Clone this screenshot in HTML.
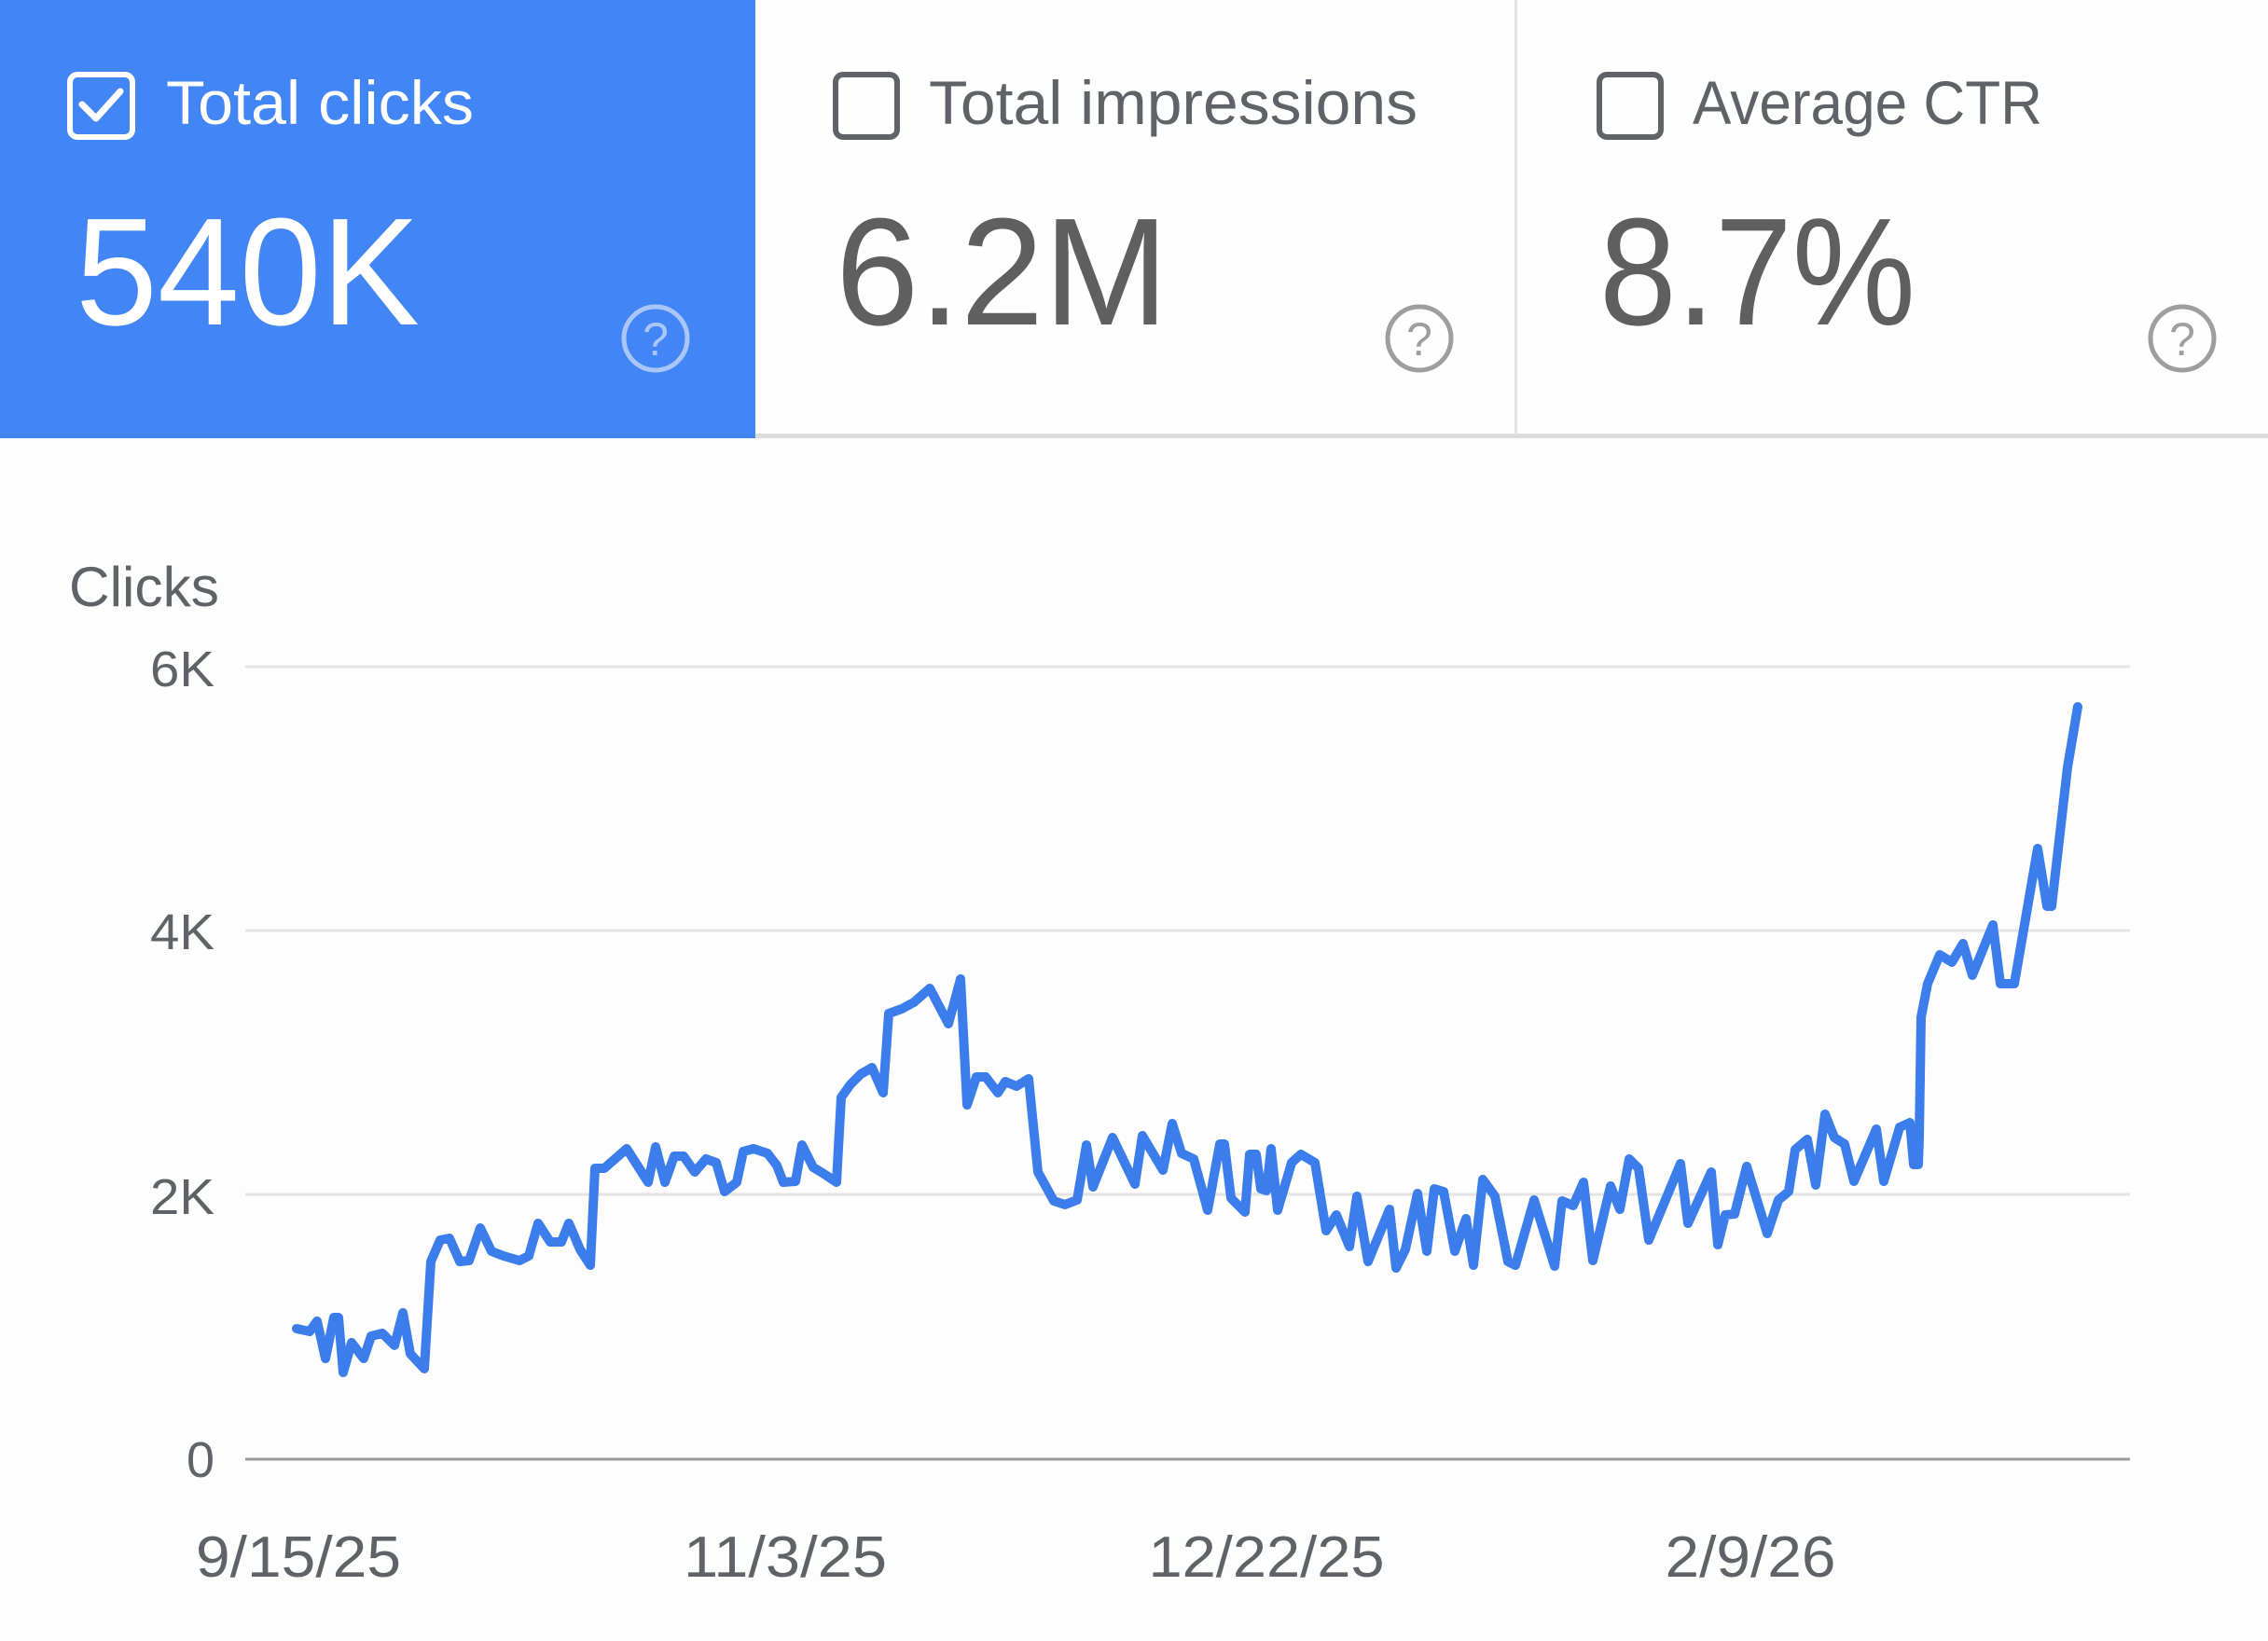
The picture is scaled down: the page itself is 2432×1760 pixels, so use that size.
<!DOCTYPE html>
<html>
<head>
<meta charset="utf-8">
<style>
  html,body{margin:0;padding:0;background:#fdfdfd;}
  body{width:2432px;height:1760px;overflow:hidden;}
  svg{display:block;}
  text{font-family:"Liberation Sans", Arial, sans-serif;}
</style>
</head>
<body>
<svg width="2432" height="1760" viewBox="0 0 2432 1760" xmlns="http://www.w3.org/2000/svg">
  <!-- backgrounds -->
  <rect x="0" y="0" width="2432" height="1760" fill="#fdfdfd"/>
  <rect x="810" y="0" width="1622" height="466" fill="#fefefe"/>
  <!-- bottom border of cards -->
  <rect x="810" y="465" width="1622" height="5" fill="#dcdcdc"/>
  <!-- divider between card 2 and 3 -->
  <rect x="1624" y="0" width="3" height="466" fill="#e3e3e3"/>
  <!-- blue selected card -->
  <rect x="0" y="0" width="810" height="470" fill="#4285f4"/>

  <!-- Card 1 -->
  <rect x="75" y="80" width="67" height="67" rx="8" ry="8" fill="none" stroke="#ffffff" stroke-width="6"/>
  <polyline points="88,112 103,127 129,98" fill="none" stroke="#ffffff" stroke-width="7" stroke-linecap="round" stroke-linejoin="round"/>
  <text x="178" y="133" font-size="66" fill="#ffffff" textLength="330" lengthAdjust="spacingAndGlyphs">Total clicks</text>
  <text x="81" y="348" font-size="164" fill="#ffffff" textLength="369" lengthAdjust="spacingAndGlyphs">540K</text>
  <circle cx="703" cy="363" r="34" fill="none" stroke="#a9c6f8" stroke-width="5"/>
  <text x="703" y="381" font-size="50" fill="#a9c6f8" text-anchor="middle">?</text>

  <!-- Card 2 -->
  <rect x="896" y="80" width="66" height="67" rx="8" ry="8" fill="none" stroke="#5f6368" stroke-width="6"/>
  <text x="996" y="133" font-size="66" fill="#5f6368" textLength="524" lengthAdjust="spacingAndGlyphs">Total impressions</text>
  <text x="896" y="348" font-size="164" fill="#5f5f5f" textLength="357" lengthAdjust="spacingAndGlyphs">6.2M</text>
  <circle cx="1522" cy="363" r="34" fill="none" stroke="#9e9e9e" stroke-width="5"/>
  <text x="1522" y="381" font-size="50" fill="#9e9e9e" text-anchor="middle">?</text>

  <!-- Card 3 -->
  <rect x="1715" y="80" width="66" height="67" rx="8" ry="8" fill="none" stroke="#5f6368" stroke-width="6"/>
  <text x="1815" y="133" font-size="66" fill="#5f6368" textLength="375" lengthAdjust="spacingAndGlyphs">Average CTR</text>
  <text x="1715" y="348" font-size="164" fill="#5f5f5f" textLength="339" lengthAdjust="spacingAndGlyphs">8.7%</text>
  <circle cx="2340" cy="363" r="34" fill="none" stroke="#9e9e9e" stroke-width="5"/>
  <text x="2340" y="381" font-size="50" fill="#9e9e9e" text-anchor="middle">?</text>

  <!-- Chart -->
  <text x="74" y="650" font-size="60" fill="#5f6368" textLength="161" lengthAdjust="spacingAndGlyphs">Clicks</text>

  <line x1="263" y1="715" x2="2284" y2="715" stroke="#e4e4e4" stroke-width="3"/>
  <line x1="263" y1="998" x2="2284" y2="998" stroke="#e4e4e4" stroke-width="3"/>
  <line x1="263" y1="1281" x2="2284" y2="1281" stroke="#e4e4e4" stroke-width="3"/>
  <line x1="263" y1="1565" x2="2284" y2="1565" stroke="#9a9a9a" stroke-width="3"/>

  <text x="230" y="736" font-size="54" fill="#5f6368" text-anchor="end" textLength="69" lengthAdjust="spacingAndGlyphs">6K</text>
  <text x="230" y="1018" font-size="54" fill="#5f6368" text-anchor="end" textLength="69" lengthAdjust="spacingAndGlyphs">4K</text>
  <text x="230" y="1302" font-size="54" fill="#5f6368" text-anchor="end" textLength="69" lengthAdjust="spacingAndGlyphs">2K</text>
  <text x="230" y="1584" font-size="54" fill="#5f6368" text-anchor="end">0</text>

  <text x="320" y="1691" font-size="62" fill="#5f6368" text-anchor="middle" textLength="220" lengthAdjust="spacingAndGlyphs">9/15/25</text>
  <text x="842" y="1691" font-size="62" fill="#5f6368" text-anchor="middle" textLength="218" lengthAdjust="spacingAndGlyphs">11/3/25</text>
  <text x="1358" y="1691" font-size="62" fill="#5f6368" text-anchor="middle" textLength="253" lengthAdjust="spacingAndGlyphs">12/22/25</text>
  <text x="1877" y="1691" font-size="62" fill="#5f6368" text-anchor="middle" textLength="183" lengthAdjust="spacingAndGlyphs">2/9/26</text>

  <polyline fill="none" stroke="#3b7deb" stroke-width="10" stroke-linejoin="round" stroke-linecap="round"
    points="318,1425 332,1428 340,1417 349,1457 358,1413 363,1413 368,1472 377,1440 390,1457 398,1433 410,1430 423,1443 432,1408 440,1452 455,1468 462,1353 472,1330 482,1328 493,1353 503,1352 515,1317 527,1342 540,1347 557,1352 567,1347 577,1312 590,1332 602,1332 610,1312 622,1340 633,1357 638,1253 648,1253 672,1232 695,1268 703,1230 713,1268 723,1240 733,1240 745,1257 757,1243 768,1247 777,1278 790,1268 797,1235 808,1232 823,1237 833,1250 840,1268 853,1267 860,1228 872,1252 882,1258 897,1268 902,1177 912,1163 923,1152 935,1145 947,1172 953,1087 967,1082 980,1075 997,1060 1017,1098 1030,1050 1037,1185 1047,1155 1057,1155 1070,1172 1078,1160 1090,1165 1103,1157 1113,1257 1130,1288 1142,1292 1155,1287 1165,1228 1172,1273 1193,1220 1217,1270 1225,1218 1247,1255 1257,1205 1267,1237 1280,1243 1295,1298 1308,1227 1313,1227 1320,1285 1335,1300 1340,1238 1347,1238 1352,1275 1358,1277 1363,1232 1370,1298 1385,1247 1395,1238 1410,1247 1422,1320 1433,1303 1447,1337 1455,1283 1467,1353 1490,1297 1497,1360 1507,1340 1520,1280 1530,1342 1538,1275 1548,1278 1560,1342 1572,1307 1580,1357 1590,1265 1603,1283 1617,1353 1625,1357 1645,1287 1667,1358 1675,1288 1687,1293 1698,1268 1708,1352 1727,1272 1737,1297 1747,1243 1757,1253 1768,1330 1802,1248 1810,1312 1835,1257 1842,1335 1850,1303 1860,1302 1873,1251 1895,1323 1907,1287 1918,1278 1925,1233 1938,1222 1947,1271 1957,1195 1967,1220 1978,1227 1988,1267 2012,1211 2020,1267 2037,1209 2048,1204 2052,1249 2057,1249 2058,1220 2060,1091 2067,1055 2080,1024 2093,1032 2105,1012 2115,1046 2137,992 2145,1055 2160,1055 2185,910 2195,972 2200,972 2217,823 2228,758"/>
</svg>
</body>
</html>
